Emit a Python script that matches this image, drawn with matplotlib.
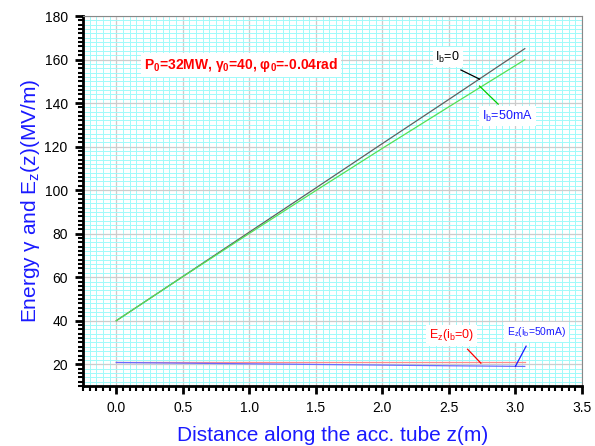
import numpy as np
import matplotlib.pyplot as plt
from matplotlib.ticker import MultipleLocator

plt.rcParams['font.family'] = ['Liberation Sans', 'DejaVu Sans']

# distance along the tube (m)
z = [0.0, 0.5, 1.0, 1.5, 2.0, 2.5, 3.07]
# energy gamma, no beam / 50 mA beam
gamma_ib0 = [40.0, 60.3, 80.7, 101.0, 121.4, 141.7, 165.0]
gamma_ib50 = [40.0, 60.2, 80.1, 99.8, 119.2, 138.3, 159.9]
# field Ez (MV/m)
ez_ib0 = [20.8, 20.8, 20.8, 20.8, 20.8, 20.8, 20.8]
ez_ib50 = [20.8, 20.5, 20.2, 19.9, 19.6, 19.3, 19.0]

fig = plt.figure(figsize=(5.95, 4.46), dpi=100)
ax = fig.add_axes([83 / 595, 1 - 386 / 446, 499 / 595, 370 / 446])

ax.set_xlim(-0.25, 3.5)
ax.set_ylim(10, 180)
ax.xaxis.set_major_locator(MultipleLocator(0.5))
ax.xaxis.set_minor_locator(MultipleLocator(0.05))
ax.yaxis.set_major_locator(MultipleLocator(20))
ax.yaxis.set_minor_locator(MultipleLocator(2))

ax.grid(which='minor', color='#a0fafa', lw=0.7, zorder=0)
ax.grid(which='major', color='#cccccc', lw=0.9, zorder=0.5)
ax.set_axisbelow(True)

ax.plot(z, gamma_ib0, color='#606060', lw=0.9, zorder=3)
ax.plot(z, gamma_ib50, color='#55e055', lw=0.9, zorder=3)
ax.plot(z, ez_ib0, color='#ff8c8c', lw=0.9, zorder=3)
ax.plot(z, ez_ib50, color='#6a6aff', lw=0.9, zorder=3)

for s in ['top', 'right']:
    ax.spines[s].set_color('#888888')
    ax.spines[s].set_linewidth(0.8)
for s in ['left', 'bottom']:
    ax.spines[s].set_linewidth(2)
ax.tick_params(which='major', direction='out', length=6, width=2, labelsize=10, pad=5)
ax.tick_params(which='minor', direction='out', length=3.5, width=1.5)
ax.tick_params(top=False, right=False, which='both')
ax.set_xticks([0, 0.5, 1.0, 1.5, 2.0, 2.5, 3.0, 3.5])
ax.set_xticklabels(['0.0', '0.5', '1.0', '1.5', '2.0', '2.5', '3.0', '3.5'])

ax.set_xlabel('Distance along the acc. tube z(m)', color='#1a1aff', fontsize=15, labelpad=8)
ax.set_ylabel(r'Energy γ and E$_\mathregular{z}$(z)(MV/m)', color='#1a1aff', fontsize=15, labelpad=2)

box = dict(facecolor='white', edgecolor='none', pad=2)
ax.text(0.94, 157.5, r'P$_\mathregular{0}$=32MW, γ$_\mathregular{0}$=40, φ$_\mathregular{0}$=-0.04rad',
        color='red', fontsize=10, fontweight='bold', ha='center', va='center', bbox=box, zorder=5)

ax.text(2.49, 161.1, r'I$_\mathregular{b}$=0', color='black', fontsize=9, ha='center', va='center', bbox=box, zorder=5)
ax.plot([2.59, 2.73], [155.2, 151.0], color='black', lw=0.9, zorder=4)
ax.text(2.94, 134.0, r'I$_\mathregular{b}$=50mA', color='#1a1aff', fontsize=9, ha='center', va='center', bbox=box, zorder=5)
ax.plot([2.73, 2.87], [147.8, 139.5], color='#00cc00', lw=0.9, zorder=4)

ax.text(2.52, 33.3, r'E$_\mathregular{z}$(i$_\mathregular{b}$=0)', color='red', fontsize=9, ha='center', va='center', bbox=box, zorder=5)
ax.plot([2.64, 2.74], [26.9, 20.5], color='red', lw=0.9, zorder=4)
ax.text(3.16, 34.7, r'E$_\mathregular{z}$(i$_\mathregular{b}$=50mA)', color='#1a1aff', fontsize=7.5, ha='center', va='center', bbox=box, zorder=5)
ax.plot([3.08, 3.0], [28.3, 19.1], color='#1a1aff', lw=0.9, zorder=4)

fig.savefig('out.png', dpi=100)
